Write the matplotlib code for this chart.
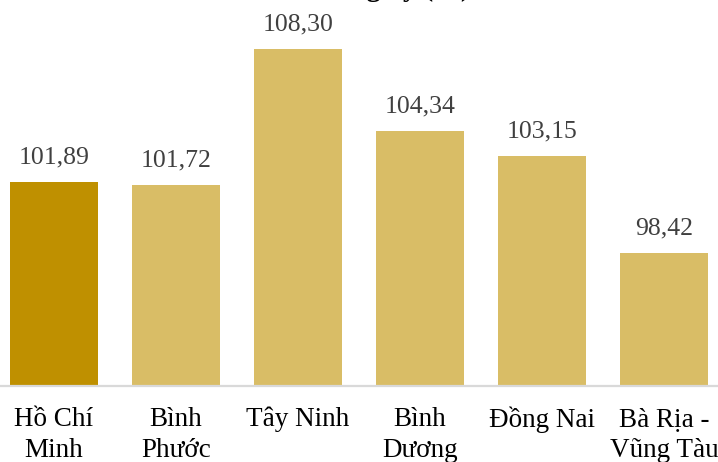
import matplotlib.pyplot as plt

# Data
provinces = ['Hồ Chí\nMinh', 'Bình\nPhước', 'Tây Ninh', 'Bình\nDương', 'Đồng Nai', 'Bà Rịa -\nVũng Tàu']
values = [101.89, 101.72, 108.30, 104.34, 103.15, 98.42]
highlight = 'Hồ Chí\nMinh'

plt.rcParams['font.family'] = ['Liberation Serif', 'DejaVu Serif']

fig = plt.figure(figsize=(7.18, 4.62), dpi=100)
ax = fig.add_axes([0, 1 - 386/462, 1, (386 - 14)/462])

colors = ['#BF9000' if p == highlight else '#D9BD66' for p in provinces]
x = list(range(len(provinces)))
bars = ax.bar(x, values, width=0.72, color=colors, bottom=0)

for xi, v in zip(x, values):
    ax.text(xi, v + 0.9, f'{v:.2f}'.replace('.', ','), ha='center', va='baseline',
            fontsize=18.5, color='#404040')

ax.set_xlim(-0.44, 5.44)
ax.set_ylim(92, 110)
ax.set_yticks([])
ax.set_xticks(x)
ax.set_xticklabels(provinces, fontsize=19.5, color='black', va='top', linespacing=1.3)
ax.tick_params(axis='x', length=0, pad=15)
for s in ['top', 'left', 'right']:
    ax.spines[s].set_visible(False)
ax.spines['bottom'].set_color('#D9D9D9')
ax.spines['bottom'].set_linewidth(1.6)

# title is mostly cropped off in the reference
fig.text(0.5, 1 + 4/462, 'so với cùng kỳ (%)', ha='center', va='baseline',
         fontsize=20, fontweight='bold', color='black')

fig.savefig('out.png', dpi=100)
